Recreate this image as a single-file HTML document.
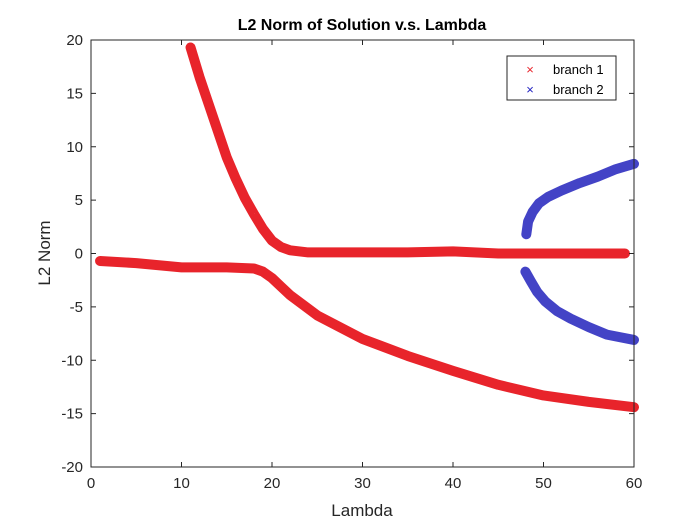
<!DOCTYPE html>
<html><head><meta charset="utf-8"><style>
body{margin:0;background:#fff;}
svg{display:block;font-family:"Liberation Sans",Arial,sans-serif;}
</style></head><body>
<svg id="chart" width="700" height="525">
<rect width="700" height="525" fill="#fff"/>
<g id="plot"></g>
<text x="362" y="30" text-anchor="middle" font-size="16" font-weight="bold" fill="#000">L2 Norm of Solution v.s. Lambda</text>
<text x="362" y="516" text-anchor="middle" font-size="17" fill="#262626">Lambda</text>
<text transform="translate(50,253) rotate(-90)" text-anchor="middle" font-size="17" fill="#262626">L2 Norm</text>
<g>
<rect x="507" y="56" width="109" height="44" fill="#fff" stroke="#262626" stroke-width="1"/>
<text x="530" y="74" text-anchor="middle" font-size="13" fill="#e8242b">×</text>
<text x="553" y="74" font-size="13" fill="#000">branch 1</text>
<text x="530" y="94" text-anchor="middle" font-size="13" fill="#2020c0">×</text>
<text x="553" y="94" font-size="13" fill="#000">branch 2</text>
</g>
</svg>
<script>
const xTicks=[0,10,20,30,40,50,60];
const yTicks=[-20,-15,-10,-5,0,5,10,15,20];
const b1UpperX=[11,12,13,14,15,16,17,18,19,20,21,22,24,30,35,40,45,50,55,59];
const b1UpperY=[19.3,16.5,14,11.5,9,7,5.2,3.7,2.3,1.2,0.6,0.3,0.1,0.1,0.1,0.2,0,0,0,0];
const b1LowerX=[1,5,10,15,18,19,20,21,22,25,30,35,40,45,50,55,60];
const b1LowerY=[-0.7,-0.9,-1.3,-1.3,-1.4,-1.7,-2.3,-3.1,-3.9,-5.8,-8,-9.6,-11,-12.3,-13.3,-13.9,-14.4];
const b2UpperX=[48.1,48.3,48.8,49.5,50.5,52,54,56,58,60];
const b2UpperY=[1.8,3,3.9,4.7,5.3,5.9,6.6,7.2,7.9,8.4];
const b2LowerX=[48,48.6,49.3,50.2,51.5,53,55,57,60];
const b2LowerY=[-1.7,-2.6,-3.6,-4.5,-5.4,-6.1,-6.9,-7.6,-8.1];
const X0=91,X1=634,Y0=467,Y1=40;
const sx=v=>X0+(v-0)/(60-0)*(X1-X0);
const sy=v=>Y0-(v+20)/40*(Y0-Y1);
const NS="http://www.w3.org/2000/svg";
const g=document.getElementById('plot');
function mk(t,a){const e=document.createElementNS(NS,t);for(const k in a)e.setAttribute(k,a[k]);g.appendChild(e);return e;}
function series(xs,ys,col,name){
 const p=mk('polyline',{points:xs.map((x,i)=>sx(x)+','+sy(ys[i])).join(' '),fill:'none',stroke:col,'stroke-width':10,'stroke-linecap':'round','stroke-linejoin':'round'});
 
 
}
series(b1UpperX,b1UpperY,'#e8242b','branch1-upper');
series(b1LowerX,b1LowerY,'#e8242b','branch1-lower');
series(b2UpperX,b2UpperY,'#4343c6','branch2-upper');
series(b2LowerX,b2LowerY,'#4343c6','branch2-lower');
const box=mk('rect',{x:X0,y:Y1,width:X1-X0,height:Y0-Y1,fill:'none',stroke:'#262626','stroke-width':1});


xTicks.forEach(v=>{const x=sx(v);
 mk('line',{x1:x,x2:x,y1:Y0,y2:Y0-5,stroke:'#262626'});mk('line',{x1:x,x2:x,y1:Y1,y2:Y1+5,stroke:'#262626'});
 const t=mk('text',{x:x,y:Y0+21,'text-anchor':'middle','font-size':15,fill:'#262626'});t.textContent=v;
 
 
});
yTicks.forEach(v=>{const y=sy(v);
 mk('line',{x1:X0,x2:X0+5,y1:y,y2:y,stroke:'#262626'});mk('line',{x1:X1,x2:X1-5,y1:y,y2:y,stroke:'#262626'});
 const t=mk('text',{x:X0-8,y:y+5,'text-anchor':'end','font-size':15,fill:'#262626'});t.textContent=v;
 
 
});
</script>
</body></html>
